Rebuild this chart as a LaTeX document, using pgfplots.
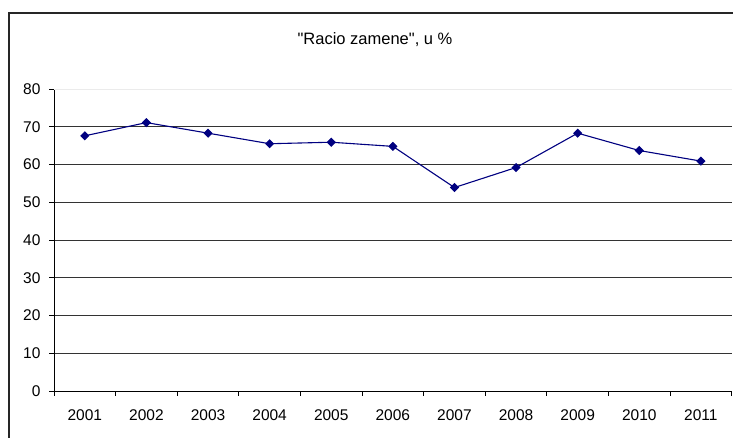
\documentclass[border=0pt]{standalone}
\usepackage{pgfplots}
\pgfplotsset{compat=1.18}
\usepackage{fontspec}
\setmainfont{Liberation Sans}[Ligatures=TeXOff]
\definecolor{navy}{RGB}{0,0,128}
\begin{document}
\begin{tikzpicture}[x=1pt,y=1pt]
\useasboundingbox (0,0) rectangle (733,438);
\draw[line width=1.4pt,black!85] (9,-20) -- (9,425) -- (760,425);
\node[font=\fontsize{16.5}{19}\selectfont] at (375,398) {"Racio zamene", u \%};
\begin{axis}[
  at={(54pt,47pt)}, anchor=south west,
  scale only axis, width=677.7pt, height=302pt,
  xmin=-0.5, xmax=10.5, ymin=0, ymax=80,
  axis x line*=bottom, axis y line*=left,
  axis line style={black, line width=0.8pt, -},
  xtick={0,...,10},
  xticklabels={2001,2002,2003,2004,2005,2006,2007,2008,2009,2010,2011},
  major x tick style={draw=none},
  minor xtick={-0.5,0.5,...,10.5},
  minor x tick style={black, line width=0.8pt},
  ytick={0,10,...,70},
  extra y ticks={80},
  extra y tick style={grid style={black!8, line width=0.8pt}},
  y tick style={black, line width=0.8pt},
  tick align=outside,
  major tick length=5pt, minor tick length=5pt,
  ymajorgrids,
  grid style={black!80, line width=0.8pt},
  tick label style={font=\fontsize{15.5}{18}\selectfont, black},
  x tick label style={yshift=-10pt},
  y tick label style={xshift=-5pt},
  /pgf/number format/assume math mode=true,
  clip=false,
]
\addplot[navy, line width=1.1pt, mark=square*, mark size=2.7pt, mark options={fill=navy, draw=navy, rotate=45, solid}]
coordinates {(0,67.6) (1,71.1) (2,68.3) (3,65.5) (4,65.9) (5,64.8) (6,53.9) (7,59.2) (8,68.3) (9,63.7) (10,60.9)};
\end{axis}
\end{tikzpicture}
\end{document}
